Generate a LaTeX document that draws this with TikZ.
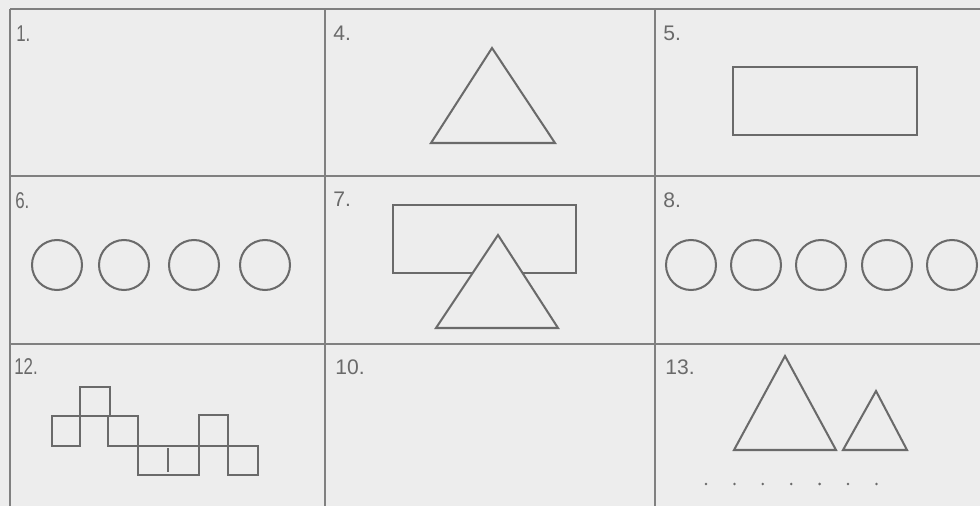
\documentclass[tikz,border=0pt]{standalone}
\usepackage{fontspec}
\setmainfont{Liberation Sans}
\newfontfamily\narrowsf[FakeStretch=0.74]{Liberation Sans}
\usetikzlibrary{positioning}
\definecolor{pagebg}{HTML}{EDEDED}
\definecolor{inkgray}{HTML}{6A6A6A}
\definecolor{rulegray}{HTML}{808080}

\begin{document}
\begin{tikzpicture}[x=0.02cm, y=-0.02cm,
  gridLine/.style ={rulegray, line width=0.85pt},
  figLine/.style  ={draw=inkgray, line width=1.15pt, line join=miter},
  mRing/.style    ={circle, draw=inkgray, line width=1.15pt, inner sep=0pt, minimum size=1cm},
  mLabel/.style   ={font=\fontsize{12}{14}\selectfont\color{inkgray}, anchor=north west, inner sep=0pt},
  mLabelN/.style  ={mLabel, font=\narrowsf\fontsize{13}{15}\selectfont\color{inkgray}},
]
% page 980x506 px, one unit = one px
\fill[pagebg] (0,0) rectangle (980,506);
\useasboundingbox (0,0) rectangle (980,506);
\draw[gridLine] (10,9) -- (980,9);
\draw[gridLine] (10,176) -- (980,176);
\draw[gridLine] (10,344) -- (980,344);
\foreach \x in {10,325,655} {
  \draw[gridLine] (\x,9) -- (\x,506);
}

% cell numbers
\node[mLabelN] (l1)  at (16,25)  {1.};
\node[mLabel]  (l4)  at (333,26) {4.};
\node[mLabel]  (l5)  at (663,26) {5.};
\node[mLabelN] (l6)  at (15,192) {6.};
\node[mLabel]  (l7)  at (333,192) {7.};
\node[mLabel]  (l8)  at (663,192) {8.};
\node[mLabelN] (l12) at (14,358) {12.};
\node[mLabel]  (l10) at (335,359) {10.};
\node[mLabel]  (l13) at (665,359) {13.};

% 4: triangle
\draw[figLine] (431,143) -- (555,143) -- (492,48) -- cycle;
% 5: rectangle
\draw[figLine] (733,67) rectangle (917,135);

% 6: four rings
\foreach \cx [count=\i] in {57,124,194,265} {
  \node[mRing] (r6-\i) at (\cx,265) {};
}

% 7: rectangle with triangle in front
\draw[figLine] (393,205) rectangle (576,273);
\draw[figLine, fill=pagebg] (436,328) -- (558,328) -- (498,235) -- cycle;

% 8: five rings
\foreach \cx [count=\i] in {691,756,821,887,952} {
  \node[mRing] (r8-\i) at (\cx,265) {};
}

% 12: chain of squares
\draw[figLine] (52,416) rectangle (80,446);
\draw[figLine] (80,387) rectangle (110,416);
\draw[figLine] (108,416) rectangle (138,446);
\draw[figLine] (138,446) rectangle (199,475);
\draw[figLine] (199,415) rectangle (228,446);
\draw[figLine] (228,446) rectangle (258,475);
\draw[inkgray, line width=1.7pt] (168,448) -- (168,472);

% 13: two triangles and dots
\draw[figLine] (734,450) -- (836,450) -- (785,356) -- cycle;
\draw[figLine] (843,450) -- (907,450) -- (876,391) -- cycle;
\foreach \dx in {0,...,6} {
  \fill[inkgray] ({706+28.4*\dx},484) circle (0.8pt);
}
\end{tikzpicture}
\end{document}
